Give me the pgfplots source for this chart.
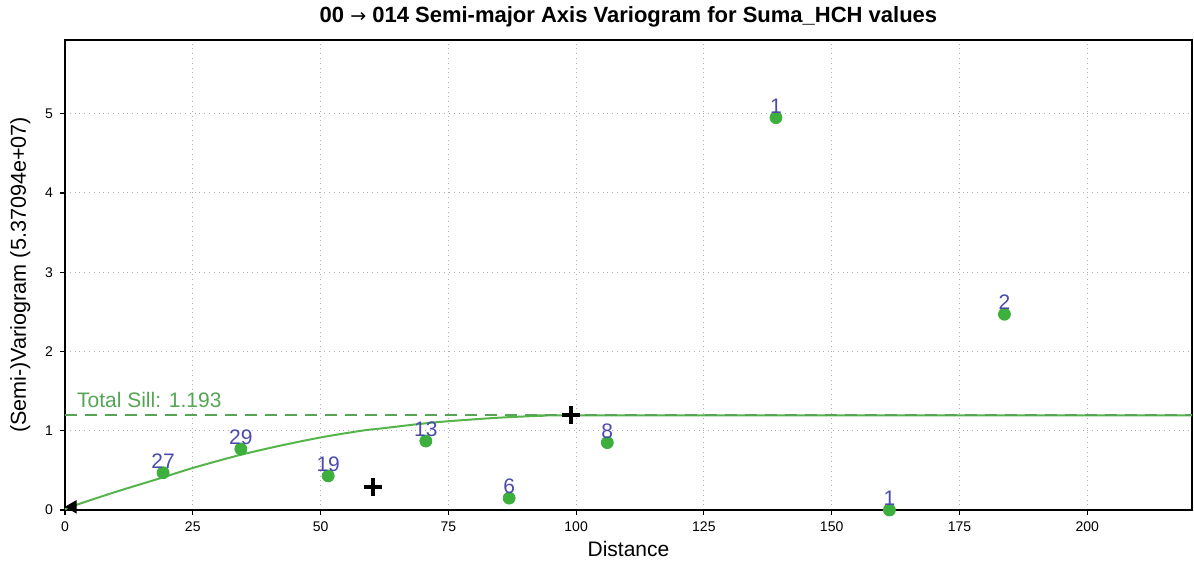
\documentclass[border=0pt]{standalone}
\usepackage{fontspec}
\setmainfont{Liberation Sans}
\newfontfamily\dejavu{DejaVu Sans}
\usepackage{pgfplots}
\pgfplotsset{compat=1.18}
\usetikzlibrary{calc}
\definecolor{ptgreen}{RGB}{60,175,60}
\definecolor{lngreen}{RGB}{85,180,75}
\definecolor{sillgreen}{RGB}{85,165,85}
\definecolor{cntblue}{RGB}{75,75,175}
\definecolor{gridgray}{RGB}{175,175,175}
\begin{document}
\begin{tikzpicture}
\begin{axis}[
  name=ax,
  scale only axis,
  width=563.5pt, height=235pt,
  xmin=0, xmax=220.5, ymin=0, ymax=5.93,
  xtick={0,25,50,75,100,125,150,175,200},
  ytick={0,1,2,3,4,5},
  xtick pos=left, ytick pos=left,
  tick align=outside,
  major tick length=2.5pt,
  tick style={black, line width=0.6pt},
  axis line style={black, line width=0.9pt},
  grid=major,
  major grid style={gridgray, dotted, line width=0.5pt},
  ticklabel style={font=\fontsize{7}{8}\selectfont},
  /pgf/number format/assume math mode=true,
  xlabel={Distance},
  ylabel={(Semi-)Variogram (5.37094e+07)},
  xlabel style={font=\fontsize{10.5}{11}\selectfont, yshift=2pt},
  ylabel style={font=\fontsize{10.8}{11}\selectfont, yshift=0.5pt},
  title={\bfseries 00 {\dejavu\mdseries\fontsize{9.5}{10}\selectfont →} 014 Semi-major Axis Variogram for Suma\_HCH values},
  title style={font=\fontsize{11}{12}\selectfont, yshift=-3pt},
  clip=false,
]
% model curve
\addplot[draw=lngreen, line width=1pt, smooth] coordinates {
(0,0.01) (2,0.06) (10,0.23) (18.6,0.40) (25,0.53) (34,0.69) (42,0.81) (50,0.915)
(58,1.0) (62,1.03) (70,1.09) (75,1.12) (85,1.165) (94,1.19) (100,1.193) (220.5,1.193)};
% sill
\addplot[draw=sillgreen, dash pattern=on 6pt off 4pt, line width=1pt] coordinates {(0,1.193) (220.5,1.193)};
% experimental points
\addplot[only marks, mark=*, mark size=3pt, color=ptgreen,
  point meta=explicit symbolic,
  nodes near coords,
  nodes near coords style={text=cntblue, font=\fontsize{10.5}{11}\selectfont, inner sep=2pt}]
  table[meta=n] {
x y n
19.2 0.47 27
34.4 0.77 29
51.5 0.43 19
70.6 0.87 13
86.9 0.15 6
106.1 0.85 8
139.1 4.95 1
161.3 0.0 1
183.8 2.47 2
};
% plus markers
\addplot[only marks, mark=+, mark size=4.5pt, black, line width=2pt] coordinates {(60.3,0.29) (99.0,1.2)};
% origin triangle
\addplot[only marks, mark=triangle*, mark size=3.5pt, black, mark options={rotate=90}] coordinates {(1.5,0.04)};
\node[anchor=west, text=sillgreen, font=\fontsize{10.5}{11}\selectfont, inner sep=0pt] at (axis cs:2.3,1.39) {Total Sill: 1.193};
\end{axis}
\pgfresetboundingbox
\path[use as bounding box] ($(ax.south west)+(-32.5pt,-30.5pt)$) rectangle ($(ax.north east)+(1pt,20pt)$);
\end{tikzpicture}
\end{document}
